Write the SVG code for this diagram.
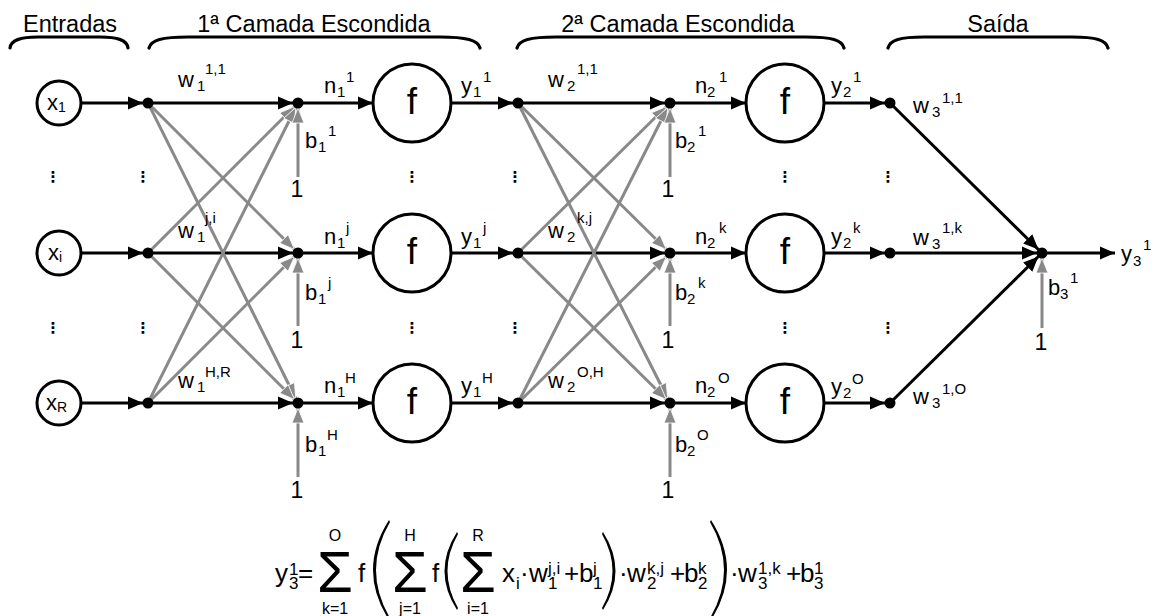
<svg xmlns="http://www.w3.org/2000/svg" width="1155" height="616" viewBox="0 0 1155 616">
<defs>
<style>
.ln{stroke:#000;stroke-width:3;fill:none}
.gl{stroke:#898989;stroke-width:3;fill:none}
.c{fill:#fff;stroke:#000;stroke-width:3}
.dot{fill:#000}
.br{fill:none;stroke:#000;stroke-width:3.2;stroke-linecap:round}
text{font-family:"Liberation Sans",Arial,sans-serif;fill:#000}
.ttl{font-size:23.5px;text-anchor:middle}
.m{font-size:22px}
.s{font-size:15px}
.one{font-size:23px;text-anchor:middle}
.f{font-size:37px;text-anchor:middle}
.vd{font-family:"DejaVu Sans",sans-serif;font-size:15px;font-weight:bold;text-anchor:middle}
.fm{font-size:26px}
.fs{font-size:17px}
.fl{font-size:16px;text-anchor:middle}
.sig{font-size:58px}
</style>
<marker id="ab" markerUnits="userSpaceOnUse" markerWidth="16" markerHeight="14" viewBox="0 0 16 14" refX="15" refY="7" orient="auto">
<path d="M0,0.5 L15,7 L0,13.5 Z" fill="#000"/>
</marker>
<marker id="ag" markerUnits="userSpaceOnUse" markerWidth="17" markerHeight="15" viewBox="-1 -1 17 15" refX="15" refY="6.5" orient="auto">
<path d="M0,0.5 L15,6.5 L0,12.5 Z" fill="#898989" stroke="#fff" stroke-width="0.8"/>
</marker>
</defs>

<g id="titles">
<text class="ttl" x="70" y="32">Entradas</text>
<text class="ttl" x="314" y="32">1ª Camada Escondida</text>
<text class="ttl" x="678" y="32">2ª Camada Escondida</text>
<text class="ttl" x="998" y="32">Saída</text>
<path class="br" d="M10,48 C11,40 20,37 38,37 L100,37 C118,37 127,40 128,48"/>
<path class="br" d="M149,48 C151,40 162,37 188,37 L440,37 C466,37 478,40 480,48"/>
<path class="br" d="M517,48 C519,40 530,37 556,37 L806,37 C832,37 842,40 844,48"/>
<path class="br" d="M888,48 C890,40 900,37 924,37 L1072,37 C1096,37 1106,40 1108,48"/>
</g>

<g id="connectors">
<line class="ln" x1="81" y1="103" x2="143" y2="103" marker-end="url(#ab)"/>
<line class="ln" x1="81" y1="253" x2="143" y2="253" marker-end="url(#ab)"/>
<line class="ln" x1="81" y1="403" x2="143" y2="403" marker-end="url(#ab)"/>
<line class="ln" x1="148" y1="103" x2="293" y2="103" marker-end="url(#ab)"/>
<line class="ln" x1="148" y1="253" x2="293" y2="253" marker-end="url(#ab)"/>
<line class="ln" x1="148" y1="403" x2="293" y2="403" marker-end="url(#ab)"/>
<line class="gl" x1="148" y1="103" x2="294.5" y2="249.5" marker-end="url(#ag)"/>
<line class="gl" x1="148" y1="103" x2="295.8" y2="398.5" marker-end="url(#ag)"/>
<line class="gl" x1="148" y1="253" x2="294.5" y2="106.5" marker-end="url(#ag)"/>
<line class="gl" x1="148" y1="253" x2="294.5" y2="399.5" marker-end="url(#ag)"/>
<line class="gl" x1="148" y1="403" x2="295.8" y2="107.5" marker-end="url(#ag)"/>
<line class="gl" x1="148" y1="403" x2="294.5" y2="256.5" marker-end="url(#ag)"/>
<line class="gl" x1="298" y1="177" x2="298" y2="108" marker-end="url(#ag)"/>
<line class="gl" x1="298" y1="326" x2="298" y2="258" marker-end="url(#ag)"/>
<line class="gl" x1="298" y1="477" x2="298" y2="408" marker-end="url(#ag)"/>
<line class="ln" x1="298" y1="103" x2="373" y2="103" marker-end="url(#ab)"/>
<line class="ln" x1="298" y1="253" x2="373" y2="253" marker-end="url(#ab)"/>
<line class="ln" x1="298" y1="403" x2="373" y2="403" marker-end="url(#ab)"/>
<line class="ln" x1="451" y1="103" x2="513" y2="103" marker-end="url(#ab)"/>
<line class="ln" x1="451" y1="253" x2="513" y2="253" marker-end="url(#ab)"/>
<line class="ln" x1="451" y1="403" x2="513" y2="403" marker-end="url(#ab)"/>
<line class="ln" x1="518" y1="103" x2="665" y2="103" marker-end="url(#ab)"/>
<line class="ln" x1="518" y1="253" x2="665" y2="253" marker-end="url(#ab)"/>
<line class="ln" x1="518" y1="403" x2="665" y2="403" marker-end="url(#ab)"/>
<line class="gl" x1="518" y1="103" x2="666.4" y2="249.5" marker-end="url(#ag)"/>
<line class="gl" x1="518" y1="103" x2="667.7" y2="398.5" marker-end="url(#ag)"/>
<line class="gl" x1="518" y1="253" x2="666.4" y2="106.5" marker-end="url(#ag)"/>
<line class="gl" x1="518" y1="253" x2="666.4" y2="399.5" marker-end="url(#ag)"/>
<line class="gl" x1="518" y1="403" x2="667.7" y2="107.5" marker-end="url(#ag)"/>
<line class="gl" x1="518" y1="403" x2="666.4" y2="256.5" marker-end="url(#ag)"/>
<line class="gl" x1="670" y1="177" x2="670" y2="108" marker-end="url(#ag)"/>
<line class="gl" x1="670" y1="326" x2="670" y2="258" marker-end="url(#ag)"/>
<line class="gl" x1="670" y1="477" x2="670" y2="408" marker-end="url(#ag)"/>
<line class="ln" x1="670" y1="103" x2="746" y2="103" marker-end="url(#ab)"/>
<line class="ln" x1="670" y1="253" x2="746" y2="253" marker-end="url(#ab)"/>
<line class="ln" x1="670" y1="403" x2="746" y2="403" marker-end="url(#ab)"/>
<line class="ln" x1="824" y1="103" x2="885" y2="103" marker-end="url(#ab)"/>
<line class="ln" x1="824" y1="253" x2="885" y2="253" marker-end="url(#ab)"/>
<line class="ln" x1="824" y1="403" x2="885" y2="403" marker-end="url(#ab)"/>
<line class="ln" x1="890" y1="103" x2="1038.4" y2="249.5" marker-end="url(#ab)"/>
<line class="ln" x1="890" y1="253" x2="1037" y2="253" marker-end="url(#ab)"/>
<line class="ln" x1="890" y1="403" x2="1038.4" y2="256.5" marker-end="url(#ab)"/>
<line class="gl" x1="1042" y1="328" x2="1042" y2="258" marker-end="url(#ag)"/>
<line class="ln" x1="1042" y1="253" x2="1115" y2="253" marker-end="url(#ab)"/>
</g>

<g id="input-x1"><circle class="c" cx="59" cy="103" r="22"/><text class="m" x="47" y="110">x<tspan font-size="14" dy="2">1</tspan></text></g>
<g id="input-xi"><circle class="c" cx="59" cy="253" r="22"/><text class="m" x="48" y="260">x<tspan font-size="14" dy="2">i</tspan></text></g>
<g id="input-xR"><circle class="c" cx="59" cy="403" r="22"/><text class="m" x="46" y="410">x<tspan font-size="14" dy="2">R</tspan></text></g>

<g id="dist1-1"><circle class="dot" cx="148" cy="103" r="5.5"/></g>
<g id="dist1-j"><circle class="dot" cx="148" cy="253" r="5.5"/></g>
<g id="dist1-R"><circle class="dot" cx="148" cy="403" r="5.5"/></g>
<g id="sum1-1"><circle class="dot" cx="298" cy="103" r="5.5"/></g>
<g id="sum1-j"><circle class="dot" cx="298" cy="253" r="5.5"/></g>
<g id="sum1-H"><circle class="dot" cx="298" cy="403" r="5.5"/></g>
<g id="f1-1"><circle class="c" cx="412" cy="103" r="39"/><text class="f" x="412" y="114">f</text></g>
<g id="f1-j"><circle class="c" cx="412" cy="253" r="39"/><text class="f" x="412" y="264">f</text></g>
<g id="f1-H"><circle class="c" cx="412" cy="403" r="39"/><text class="f" x="412" y="414">f</text></g>
<g id="dist2-1"><circle class="dot" cx="518" cy="103" r="5.5"/></g>
<g id="dist2-j"><circle class="dot" cx="518" cy="253" r="5.5"/></g>
<g id="dist2-H"><circle class="dot" cx="518" cy="403" r="5.5"/></g>
<g id="sum2-1"><circle class="dot" cx="670" cy="103" r="5.5"/></g>
<g id="sum2-k"><circle class="dot" cx="670" cy="253" r="5.5"/></g>
<g id="sum2-O"><circle class="dot" cx="670" cy="403" r="5.5"/></g>
<g id="f2-1"><circle class="c" cx="785" cy="103" r="39"/><text class="f" x="785" y="114">f</text></g>
<g id="f2-k"><circle class="c" cx="785" cy="253" r="39"/><text class="f" x="785" y="264">f</text></g>
<g id="f2-O"><circle class="c" cx="785" cy="403" r="39"/><text class="f" x="785" y="414">f</text></g>
<g id="dist3-1"><circle class="dot" cx="890" cy="103" r="5.5"/></g>
<g id="dist3-k"><circle class="dot" cx="890" cy="253" r="5.5"/></g>
<g id="dist3-O"><circle class="dot" cx="890" cy="403" r="5.5"/></g>
<g id="sum3"><circle class="dot" cx="1042" cy="253" r="5.5"/></g>

<g id="ellipses">
<text class="vd" x="53" y="182">⋮</text><text class="vd" x="143" y="182">⋮</text><text class="vd" x="412" y="182">⋮</text><text class="vd" x="515" y="182">⋮</text><text class="vd" x="785" y="182">⋮</text><text class="vd" x="888" y="182">⋮</text>
<text class="vd" x="53" y="333">⋮</text><text class="vd" x="143" y="333">⋮</text><text class="vd" x="412" y="333">⋮</text><text class="vd" x="515" y="333">⋮</text><text class="vd" x="785" y="333">⋮</text><text class="vd" x="888" y="333">⋮</text>
</g>

<g id="labels">
<text class="m" x="178" y="87">w</text><text class="s" x="197" y="91">1</text><text class="s" x="205" y="74">1,1</text>
<text class="m" x="178" y="238">w</text><text class="s" x="197" y="242">1</text><text class="s" x="205" y="223">j,i</text>
<text class="m" x="178" y="388">w</text><text class="s" x="197" y="392">1</text><text class="s" x="205" y="377">H,R</text>
<text class="m" x="324" y="93">n</text><text class="s" x="337" y="97">1</text><text class="s" x="346" y="82">1</text>
<text class="m" x="324" y="244">n</text><text class="s" x="337" y="248">1</text><text class="s" x="346" y="233">j</text>
<text class="m" x="324" y="393">n</text><text class="s" x="337" y="397">1</text><text class="s" x="345" y="383">H</text>
<text class="m" x="305" y="148">b</text><text class="s" x="318" y="152">1</text><text class="s" x="328" y="136">1</text>
<text class="m" x="305" y="300">b</text><text class="s" x="318" y="304">1</text><text class="s" x="328" y="288">j</text>
<text class="m" x="305" y="452">b</text><text class="s" x="318" y="456">1</text><text class="s" x="327" y="440">H</text>
<text class="one" x="297" y="197">1</text><text class="one" x="297" y="348">1</text><text class="one" x="297" y="498">1</text>
<text class="m" x="461" y="93">y</text><text class="s" x="473" y="97">1</text><text class="s" x="483" y="82">1</text>
<text class="m" x="461" y="244">y</text><text class="s" x="473" y="248">1</text><text class="s" x="483" y="233">j</text>
<text class="m" x="461" y="393">y</text><text class="s" x="473" y="397">1</text><text class="s" x="482" y="383">H</text>
<text class="m" x="548" y="87">w</text><text class="s" x="567" y="91">2</text><text class="s" x="577" y="74">1,1</text>
<text class="m" x="548" y="238">w</text><text class="s" x="567" y="242">2</text><text class="s" x="577" y="223">k,j</text>
<text class="m" x="548" y="388">w</text><text class="s" x="567" y="392">2</text><text class="s" x="577" y="377">O,H</text>
<text class="m" x="695" y="93">n</text><text class="s" x="707" y="97">2</text><text class="s" x="719" y="82">1</text>
<text class="m" x="695" y="244">n</text><text class="s" x="707" y="248">2</text><text class="s" x="719" y="233">k</text>
<text class="m" x="695" y="393">n</text><text class="s" x="707" y="397">2</text><text class="s" x="718" y="383">O</text>
<text class="m" x="675" y="148">b</text><text class="s" x="687" y="152">2</text><text class="s" x="698" y="136">1</text>
<text class="m" x="675" y="300">b</text><text class="s" x="687" y="304">2</text><text class="s" x="698" y="288">k</text>
<text class="m" x="675" y="452">b</text><text class="s" x="687" y="456">2</text><text class="s" x="697" y="440">O</text>
<text class="one" x="668" y="197">1</text><text class="one" x="668" y="348">1</text><text class="one" x="668" y="498">1</text>
<text class="m" x="831" y="93">y</text><text class="s" x="843" y="97">2</text><text class="s" x="853" y="82">1</text>
<text class="m" x="831" y="244">y</text><text class="s" x="843" y="248">2</text><text class="s" x="853" y="233">k</text>
<text class="m" x="831" y="394">y</text><text class="s" x="843" y="398">2</text><text class="s" x="852" y="384">O</text>
<text class="m" x="913" y="113">w</text><text class="s" x="932" y="117">3</text><text class="s" x="942" y="103">1,1</text>
<text class="m" x="913" y="245">w</text><text class="s" x="932" y="249">3</text><text class="s" x="942" y="233">1,k</text>
<text class="m" x="913" y="404">w</text><text class="s" x="932" y="408">3</text><text class="s" x="942" y="394">1,O</text>
<text class="m" x="1048" y="295">b</text><text class="s" x="1060" y="299">3</text><text class="s" x="1070" y="283">1</text>
<text class="one" x="1041" y="350">1</text>
<text class="m" x="1121" y="261">y</text><text class="s" x="1133" y="266">3</text><text class="s" x="1143" y="250">1</text>
</g>

<g id="formula">
<text class="fm" x="275" y="582">y</text><text class="fs" x="289" y="589">3</text><text class="fs" x="289" y="575">1</text>
<text class="fm" x="298" y="582">=</text>
<text class="sig" x="317" y="592">Σ</text><text class="fl" x="335" y="541">O</text><text class="fl" x="335" y="614">k=1</text>
<text class="fm" x="358" y="582">f</text>
<path d="M389,520 Q357,570 389,620 L390,618 Q362,570 390,522 Z" fill="#000"/>
<text class="sig" x="392" y="592">Σ</text><text class="fl" x="410" y="541">H</text><text class="fl" x="410" y="614">j=1</text>
<text class="fm" x="432" y="582">f</text>
<path d="M457,532 Q432,571 457,610 L458,608 Q437,571 458,534 Z" fill="#000"/>
<text class="sig" x="460" y="592">Σ</text><text class="fl" x="478" y="541">R</text><text class="fl" x="478" y="614">i=1</text>
<text class="fm" x="502" y="582">x</text><text class="fs" x="516" y="589">i</text>
<text class="fm" x="520" y="582">·</text>
<text class="fm" x="529" y="582">w</text><text class="fs" x="548" y="589">1</text><text class="fs" x="548" y="574">j,i</text>
<text class="fm" x="564" y="582">+</text><text class="fm" x="579" y="582">b</text><text class="fs" x="593" y="589">1</text><text class="fs" x="593" y="574">j</text>
<path d="M603,532 Q628,571 603,610 L602,608 Q623,571 602,534 Z" fill="#000"/>
<text class="fm" x="619" y="582">·</text>
<text class="fm" x="627" y="582">w</text><text class="fs" x="647" y="589">2</text><text class="fs" x="647" y="574">k,j</text>
<text class="fm" x="670" y="582">+</text><text class="fm" x="684" y="582">b</text><text class="fs" x="698" y="589">2</text><text class="fs" x="698" y="574">k</text>
<path d="M711,520 Q743,570 711,620 L710,618 Q738,570 710,522 Z" fill="#000"/>
<text class="fm" x="730" y="582">·</text>
<text class="fm" x="738" y="582">w</text><text class="fs" x="758" y="589">3</text><text class="fs" x="758" y="574">1,k</text>
<text class="fm" x="786" y="582">+</text><text class="fm" x="800" y="582">b</text><text class="fs" x="814" y="589">3</text><text class="fs" x="814" y="574">1</text>
</g>
</svg>
